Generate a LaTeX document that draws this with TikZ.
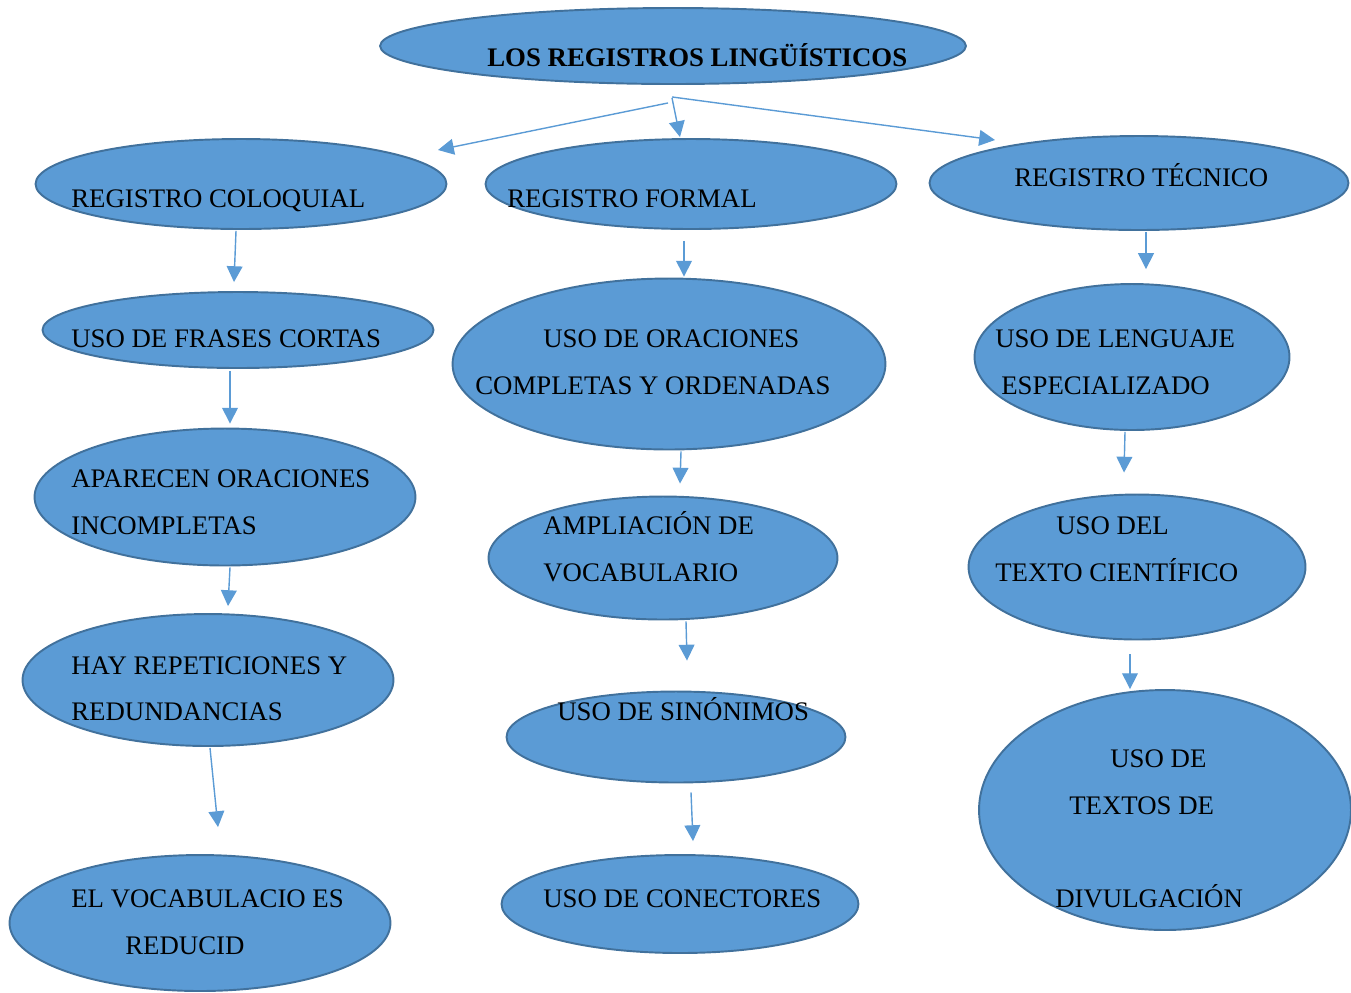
\documentclass[tikz,border=0pt]{standalone}
\usepackage{fontspec}
\setmainfont{Liberation Serif}
\usetikzlibrary{shapes.geometric, arrows.meta}
\definecolor{boxblue}{HTML}{5B9BD5}
\definecolor{rimblue}{HTML}{41719C}
\tikzset{
  bubble/.style={ellipse, draw=rimblue, line width=1.1pt, fill=boxblue, inner sep=0pt},
  txt/.style={anchor=base west, inner sep=0pt, font=\fontsize{15.25}{18}\selectfont},
  arr/.style={-{Triangle[length=9pt, width=9pt]}, boxblue, line width=0.8pt}
}

\begin{document}
\begin{tikzpicture}[x=0.02cm, y=-0.02cm]
\useasboundingbox (0,0) rectangle (1351,992);

%%%%-----------Titel-----------%%%%
\node [bubble, minimum width=11.72cm, minimum height=1.52cm] (titulo) at (673,46) {};
\node [txt, font=\fontsize{15.25}{18}\selectfont\bfseries] (titulo-t) at (487,66) {LOS REGISTROS LINGÜÍSTICOS};

%%%%-----------Registro coloquial-----------%%%%
\node [bubble, minimum width=8.22cm, minimum height=1.80cm] (coloquial) at (241,184) {};
\node [txt] (coloquial-t) at (71,207) {REGISTRO COLOQUIAL};

\node [bubble, minimum width=7.82cm, minimum height=1.52cm] (frases) at (238,330) {};
\node [txt] (frases-t) at (71,347) {USO DE FRASES CORTAS};

\node [bubble, minimum width=7.62cm, minimum height=2.74cm] (incompletas) at (225,497) {};
\node [txt] (incompletas-a) at (71,487) {APARECEN ORACIONES};
\node [txt] (incompletas-b) at (71,534) {INCOMPLETAS};

\node [bubble, minimum width=7.42cm, minimum height=2.64cm] (repeticiones) at (208,680) {};
\node [txt] (repeticiones-a) at (71,674) {HAY REPETICIONES Y};
\node [txt] (repeticiones-b) at (71,720) {REDUNDANCIAS};

\node [bubble, minimum width=7.62cm, minimum height=2.72cm] (reducido) at (200,923) {};
\node [txt] (reducido-a) at (71,907) {EL VOCABULACIO ES};
\node [txt] (reducido-b) at (125,954) {REDUCID};

%%%%-----------Registro formal-----------%%%%
\node [bubble, minimum width=8.22cm, minimum height=1.80cm] (formal) at (691,184) {};
\node [txt] (formal-t) at (507,207) {REGISTRO FORMAL};

\node [bubble, minimum width=8.66cm, minimum height=3.42cm] (oraciones) at (669,364) {};
\node [txt] (oraciones-a) at (543,347) {USO DE ORACIONES};
\node [txt] (oraciones-b) at (475,394) {COMPLETAS Y ORDENADAS};

\node [bubble, minimum width=6.98cm, minimum height=2.46cm] (ampliacion) at (663,558) {};
\node [txt] (ampliacion-a) at (543,534) {AMPLIACIÓN DE};
\node [txt] (ampliacion-b) at (543,581) {VOCABULARIO};

\node [bubble, minimum width=6.78cm, minimum height=1.82cm] (sinonimos) at (676,737) {};
\node [txt] (sinonimos-t) at (557,720) {USO DE SINÓNIMOS};

\node [bubble, minimum width=7.14cm, minimum height=1.96cm] (conectores) at (680,904) {};
\node [txt] (conectores-t) at (543,907) {USO DE CONECTORES};

%%%%-----------Registro tecnico-----------%%%%
\node [bubble, minimum width=8.38cm, minimum height=1.88cm] (tecnico) at (1139,183) {};
\node [txt] (tecnico-t) at (1014,186) {REGISTRO TÉCNICO};

\node [bubble, minimum width=6.30cm, minimum height=2.92cm] (lenguaje) at (1132,357) {};
\node [txt] (lenguaje-a) at (995,347) {USO DE LENGUAJE};
\node [txt] (lenguaje-b) at (1001,394) {ESPECIALIZADO};

\node [bubble, minimum width=6.74cm, minimum height=2.90cm] (cientifico) at (1137,567) {};
\node [txt] (cientifico-a) at (1056,534) {USO DEL};
\node [txt] (cientifico-b) at (995,581) {TEXTO CIENTÍFICO};

\node [bubble, minimum width=7.44cm, minimum height=4.80cm] (divulgacion) at (1165,810) {};
\node [txt] (divulgacion-a) at (1110,767) {USO DE};
\node [txt] (divulgacion-b) at (1069,814) {TEXTOS DE};
\node [txt] (divulgacion-c) at (1055,907) {DIVULGACIÓN};

%%%%-----------Flechas-----------%%%%
\draw [arr] ([shift={(-5,18)}]titulo.south) -- ([shift={(197,-34)}]coloquial.center);
\draw [arr] ([shift={(-1,13)}]titulo.south) -- ([shift={(-11,-1)}]formal.north);
\draw [arr] ([shift={(-1,12)}]titulo.south) -- ([shift={(-144,-43)}]tecnico.center);

\draw [arr] ([shift={(-5,1)}]coloquial.south) -- ([shift={(-4,-9)}]frases.north);
\draw [arr] ([shift={(-8,2)}]frases.south) -- ([shift={(5,-4)}]incompletas.north);
\draw [arr] ([shift={(5,1)}]incompletas.south) -- ([shift={(20,-7)}]repeticiones.north);
\draw [arr] ([shift={(2,1)}]repeticiones.south) -- ([shift={(18,-27)}]reducido.north);

\draw [arr] ([shift={(-7,11)}]formal.south) -- ([shift={(15,-1)}]oraciones.north);
\draw [arr] ([shift={(12,1)}]oraciones.south) -- ([shift={(17,-12)}]ampliacion.north);
\draw [arr] ([shift={(23,1)}]ampliacion.south) -- ([shift={(11,-30)}]sinonimos.north);
\draw [arr] ([shift={(15,9)}]sinonimos.south) -- ([shift={(13,-13)}]conectores.north);

\draw [arr] ([shift={(7,1)}]tecnico.south) -- ([shift={(14,-14)}]lenguaje.north);
\draw [arr] ([shift={(-7,1)}]lenguaje.south) -- ([shift={(-13,-21)}]cientifico.north);
\draw [arr] ([shift={(-7,14)}]cientifico.south) -- ([shift={(-35,0)}]divulgacion.north);
\end{tikzpicture}
\end{document}
